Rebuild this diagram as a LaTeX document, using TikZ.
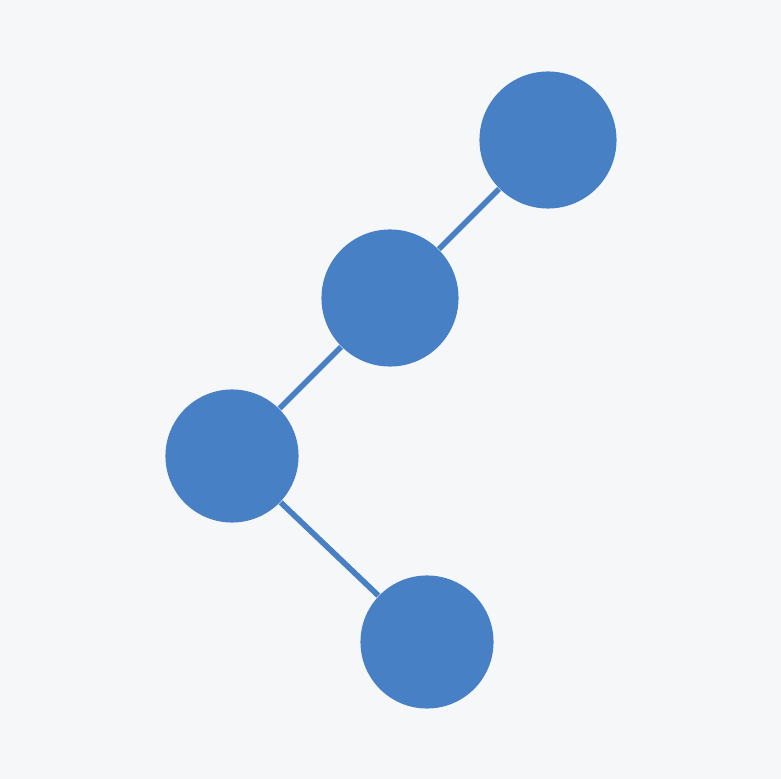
\documentclass[tikz,border=0pt]{standalone}
\usepackage{tikz}
\usepackage{xcolor}
\usetikzlibrary{positioning, backgrounds}

\definecolor{treeblue}{HTML}{4780C4}
\definecolor{bgpaper}{HTML}{F6F7F9}

\begin{document}
\begin{tikzpicture}[
    x=0.01cm, y=-0.01cm,
    vertex/.style ={circle, fill=treeblue, draw=none, inner sep=0pt,
                    minimum size=1.34cm},
    edge/.style   ={draw=treeblue, line width=1.6pt}
]

\useasboundingbox (0,0) rectangle (781,779);

% =================== Vertices ===================
\node[vertex, minimum size=1.37cm] (top) at (548,140) {};
\node[vertex, minimum size=1.37cm] (upper) at (390,298) {};
\node[vertex, minimum size=1.33cm] (left) at (232,456) {};
\node[vertex, minimum size=1.33cm] (bottom) at (427,642) {};

% --- Background and edges ---
\begin{scope}[on background layer]
\fill[bgpaper] (0,0) rectangle (781,779);
\draw[edge] (top) -- (upper);
\draw[edge] (upper) -- (left);
\draw[edge] (left) -- (bottom);
\end{scope}

\end{tikzpicture}
\end{document}
